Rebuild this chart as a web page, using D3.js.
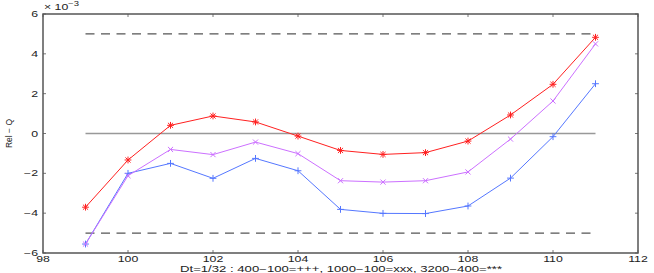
<!DOCTYPE html>
<html>
<head>
<meta charset="utf-8">
<script src="https://cdn.jsdelivr.net/npm/d3@7"></script>
<style>
  body { margin: 0; background: #fff; }
  svg { display: block; font-family: "Liberation Sans", Arial, sans-serif; }
</style>
</head>
<body>
<script>
// x positions (shared by all series)
const xs = [99, 100, 101, 102, 103, 104, 105, 106, 107, 108, 109, 110, 111];

// Rel - Q values (x 1e-3)
const star = [-3.7, -1.33, 0.41, 0.88, 0.58, -0.13, -0.85, -1.05, -0.96, -0.38, 0.93, 2.47, 4.83];   // 3200-400
const cross = [-5.55, -2.12, -0.8, -1.06, -0.43, -1.01, -2.37, -2.44, -2.37, -1.93, -0.28, 1.63, 4.5]; // 1000-100
const plus = [-5.55, -2.0, -1.5, -2.25, -1.25, -1.87, -3.81, -4.01, -4.02, -3.64, -2.24, -0.16, 2.5]; // 400-100

const xTicks = [98, 100, 102, 104, 106, 108, 110, 112];
const yTicks = [-6, -4, -2, 0, 2, 4, 6];
const bounds = [-5, 5];

const width = 654, height = 273;
const marginTop = 14, marginRight = 16, marginBottom = 20, marginLeft = 43;

const x = d3.scaleLinear([98, 112], [marginLeft, width - marginRight]);
const y = d3.scaleLinear([-6, 6], [height - marginBottom, marginTop]);

const svg = d3.select("body").append("svg")
    .attr("width", width)
    .attr("height", height)
    .attr("viewBox", [0, 0, width, height]);

const axisColor = "#555";
const sx = 1.45; // the original's text is stretched sideways

// box
svg.append("rect")
    .attr("x", x(98)).attr("y", y(6))
    .attr("width", x(112) - x(98)).attr("height", y(-6) - y(6))
    .attr("fill", "none").attr("stroke", axisColor).attr("stroke-width", 1.5);

// inward ticks on all four sides
const tickLen = 3;
const ticksG = svg.append("g").attr("stroke", axisColor).attr("stroke-width", 0.8);
for (const t of xTicks) {
  ticksG.append("line").attr("x1", x(t)).attr("x2", x(t)).attr("y1", y(-6)).attr("y2", y(-6) - tickLen);
  ticksG.append("line").attr("x1", x(t)).attr("x2", x(t)).attr("y1", y(6)).attr("y2", y(6) + tickLen);
}
for (const t of yTicks) {
  ticksG.append("line").attr("y1", y(t)).attr("y2", y(t)).attr("x1", x(98)).attr("x2", x(98) + tickLen);
  ticksG.append("line").attr("y1", y(t)).attr("y2", y(t)).attr("x1", x(112)).attr("x2", x(112) - tickLen);
}

// tick labels
const fmt = d => d < 0 ? "\u2212" + Math.abs(d) : String(d);
svg.append("g").selectAll("text").data(xTicks).join("text")
    .attr("transform", d => `translate(${x(d)},${y(-6) + 9}) scale(${sx},1)`)
    .attr("text-anchor", "middle").attr("font-size", 8.5).attr("fill", "#222")
    .text(fmt);
svg.append("g").selectAll("text").data(yTicks).join("text")
    .attr("transform", d => `translate(${x(98) - 5},${y(d) + 3}) scale(${sx},1)`)
    .attr("text-anchor", "end").attr("font-size", 8.5).attr("fill", "#222")
    .text(fmt);

// exponent
const ex = svg.append("text")
    .attr("transform", `translate(${x(98) + 1},10) scale(${sx},1)`)
    .attr("font-size", 8.5).attr("fill", "#222");
ex.append("tspan").text("\u00d7 10");
ex.append("tspan").attr("dy", -4).attr("font-size", 6.5).text("\u22123");

// labels
svg.append("text")
    .attr("transform", `translate(12,${y(0)}) rotate(-90)`)
    .attr("text-anchor", "middle").attr("font-size", 8.5).attr("fill", "#222")
    .text("Rel \u2212 Q");
svg.append("text")
    .attr("x", 341).attr("y", height - 1)
    .attr("text-anchor", "middle").attr("font-size", 8.5).attr("fill", "#222")
    .attr("textLength", 322).attr("lengthAdjust", "spacingAndGlyphs")
    .text("Dt=1/32 : 400\u2212100=+++, 1000\u2212100=xxx, 3200\u2212400=***");

// reference lines
svg.append("line")
    .attr("x1", x(xs[0])).attr("x2", x(xs[xs.length - 1]))
    .attr("y1", y(0)).attr("y2", y(0))
    .attr("stroke", "#999").attr("stroke-width", 1.4);
for (const b of bounds) {
  svg.append("line")
      .attr("x1", x(xs[0])).attr("x2", x(xs[xs.length - 1]))
      .attr("y1", y(b)).attr("y2", y(b))
      .attr("stroke", "#555").attr("stroke-width", 1.2)
      .attr("stroke-dasharray", "9,6.5");
}

// series
const series = [
  {values: plus, color: "#5577ff", marker: "plus"},
  {values: cross, color: "#cc70ff", marker: "cross"},
  {values: star, color: "#ff2020", marker: "star"},
];
const line = d3.line().x(d => x(d[0])).y(d => y(d[1]));
const s = 3.4;
for (const ser of series) {
  const pts = xs.map((v, i) => [v, ser.values[i]]);
  svg.append("path")
      .attr("d", line(pts))
      .attr("fill", "none").attr("stroke", ser.color).attr("stroke-width", 1);
  const g = svg.append("g").attr("stroke", ser.color).attr("stroke-width", 1);
  for (const [px, py] of pts) {
    const cx = x(px), cy = y(py);
    let d = "";
    if (ser.marker !== "cross") d += `M${cx - s},${cy}H${cx + s}M${cx},${cy - s}V${cy + s}`;
    if (ser.marker !== "plus") d += `M${cx - s * 0.75},${cy - s * 0.75}L${cx + s * 0.75},${cy + s * 0.75}M${cx - s * 0.75},${cy + s * 0.75}L${cx + s * 0.75},${cy - s * 0.75}`;
    g.append("path").attr("d", d);
  }
}
</script>
</body>
</html>
